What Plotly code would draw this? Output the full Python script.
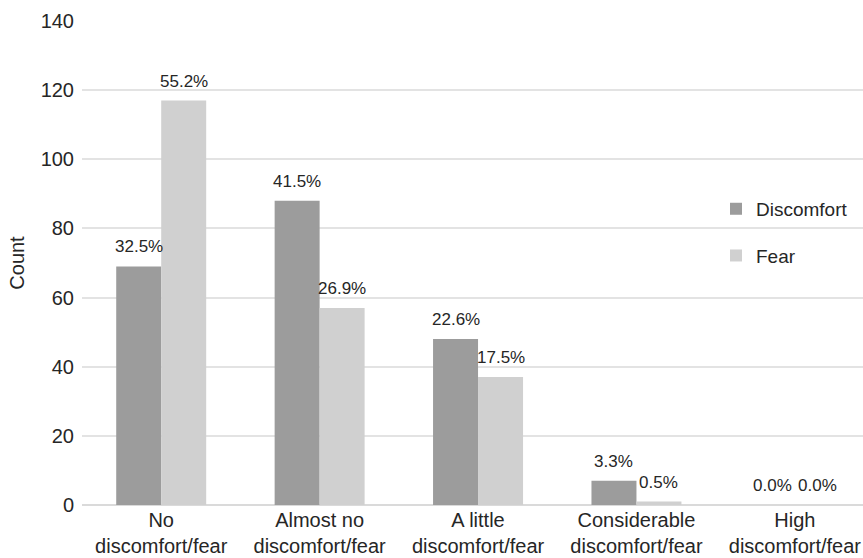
import plotly.graph_objects as go

categories = [
    "No<br>discomfort/fear",
    "Almost no<br>discomfort/fear",
    "A little<br>discomfort/fear",
    "Considerable<br>discomfort/fear",
    "High<br>discomfort/fear",
]
discomfort = [69, 88, 48, 7, 0]
fear = [117, 57, 37, 1, 0]
total = 212

y_ticks = [0, 20, 40, 60, 80, 100, 120, 140]

FONT = "Liberation Sans, Arial, sans-serif"
TEXT = "#262626"
COLORS = {"Discomfort": "#9c9c9c", "Fear": "#d0d0d0"}
BAR_OFFSET_PX = 22.5  # half a bar width, to centre labels over each bar


def pct(v):
    return f"{v / total * 100:.1f}%"


fig = go.Figure()
series = [("Discomfort", discomfort, -BAR_OFFSET_PX), ("Fear", fear, BAR_OFFSET_PX)]
for name, values, shift in series:
    fig.add_trace(go.Bar(
        name=name, x=categories, y=values,
        marker=dict(color=COLORS[name], line=dict(width=0)),
        legendgroup=name,
    ))
    for cat, v in zip(categories, values):
        fig.add_annotation(
            x=cat, y=v, text=pct(v), showarrow=False,
            xanchor="center", yanchor="bottom",
            xshift=shift, yshift=8,
            font=dict(size=17, color=TEXT, family=FONT),
        )

fig.update_layout(
    width=863, height=558,
    margin=dict(l=82, r=0, t=21, b=53, autoexpand=False),
    paper_bgcolor="white", plot_bgcolor="white",
    font=dict(family=FONT, size=20, color=TEXT),
    barmode="group", bargap=0.432, bargroupgap=0,
    legend=dict(
        x=(716 - 82) / (863 - 82), y=0.651, xanchor="left", yanchor="top",
        font=dict(size=19, color=TEXT),
        tracegroupgap=19, bgcolor="rgba(0,0,0,0)",
    ),
    showlegend=True,
)
fig.update_xaxes(
    range=[-0.5, 4.43], showgrid=False, showline=False, ticks="",
    tickfont=dict(size=20), automargin=False, ticklabelstandoff=1,
)
fig.update_yaxes(
    range=[0, 140], tickvals=y_ticks, showgrid=True,
    gridcolor="#e3e3e3", gridwidth=2,
    zeroline=True, zerolinecolor="#dadada", zerolinewidth=2,
    ticks="", tickfont=dict(size=20), automargin=False,
    ticklabelstandoff=7,
    title=dict(text="Count", font=dict(size=20), standoff=10),
)

fig.write_html("out.html")
